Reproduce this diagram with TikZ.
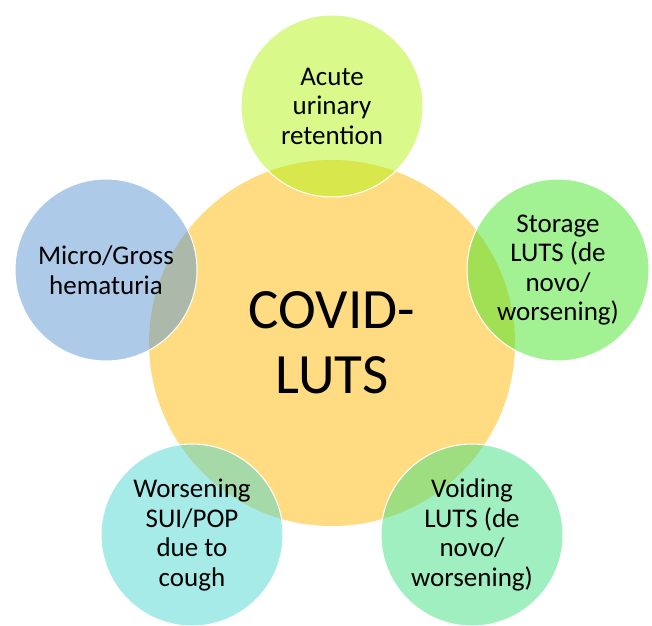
\documentclass[tikz,border=0pt]{standalone}
\usepackage{fontspec}
\setmainfont{Carlito}
\usepackage{tikz}
\definecolor{hubyellow}{HTML}{FFDC82}
\definecolor{satlime}{HTML}{B3F315}
\definecolor{satblue}{HTML}{5B97D3}
\definecolor{satgreen}{HTML}{45E527}
\definecolor{satcyan}{HTML}{4DD7CF}
\definecolor{satmint}{HTML}{41DF81}
\tikzset{
  hub/.style={circle,fill=hubyellow,minimum size=366pt,inner sep=0pt,align=center,
    font=\fontsize{57}{65}\selectfont},
  satellite/.style={circle,draw=white,line width=1pt,fill opacity=0.5,text opacity=1,
    minimum size=182pt,inner sep=0pt,align=center,font=\fontsize{27}{29.5}\selectfont},
}

\begin{document}
\begin{tikzpicture}[x=1pt,y=1pt]
    \useasboundingbox (0,0) rectangle (652,625);
    \node[hub] (covid) at (332,282) {COVID-\\LUTS};
    \node[satellite,fill=satlime] (acute) at (332,519) {Acute\\urinary\\retention};
    \node[satellite,fill=satgreen] (storage) at (558,355) {Storage\\LUTS (de\\novo/\\worsening)};
    \node[satellite,fill=satmint] (voiding) at (472,90) {Voiding\\LUTS (de\\novo/\\worsening)};
    \node[satellite,fill=satcyan] (cough) at (192,90) {Worsening\\SUI/POP\\due to\\cough};
    \node[satellite,fill=satblue] (hematuria) at (106,355) {Micro/Gross\\hematuria};
  \end{tikzpicture}
\end{document}
